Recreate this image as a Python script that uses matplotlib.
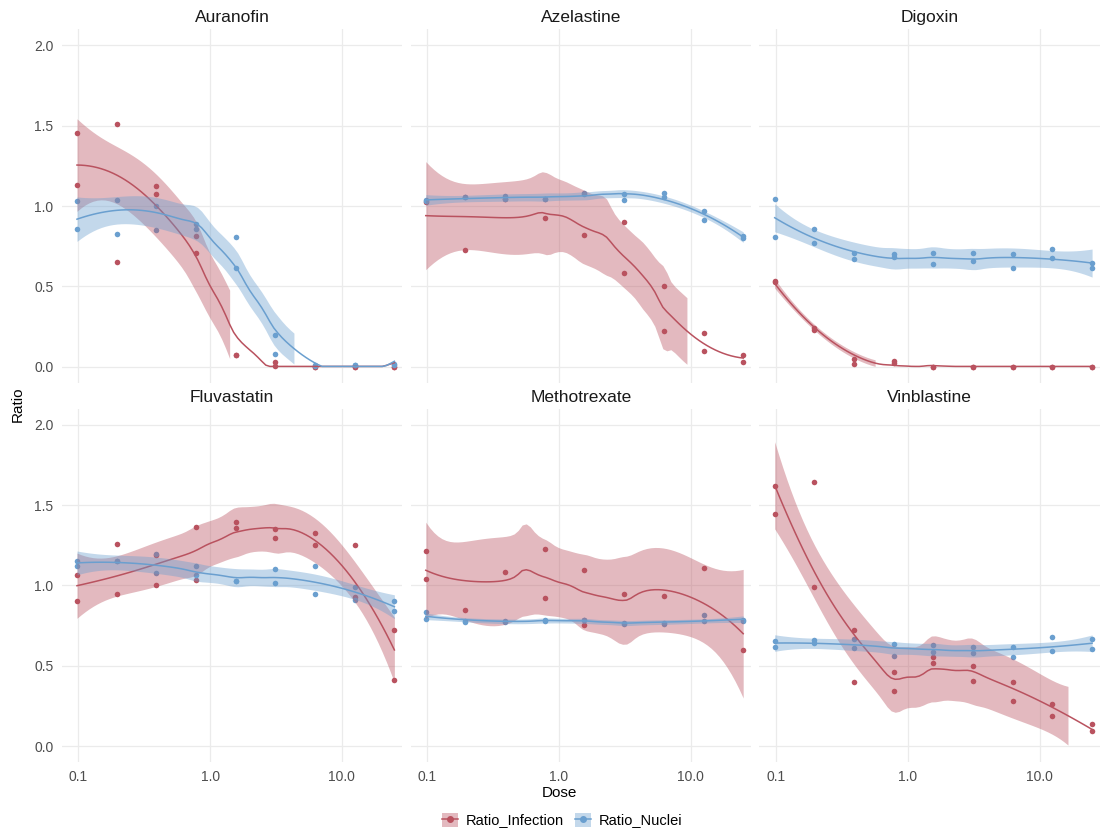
import math
import numpy as np
import matplotlib.pyplot as plt
from matplotlib.patches import Patch
from matplotlib.lines import Line2D

# doses (two-fold dilution series), one entry per column of replicates below
doses = [0.0977, 0.1953, 0.3906, 0.7813, 1.5625, 3.125, 6.25, 12.5, 25.0]

drugs = ['Auranofin', 'Azelastine', 'Digoxin', 'Fluvastatin', 'Methotrexate', 'Vinblastine']

# replicate values per dose (None = point not shown / out of range)
auranofin_infection = [[1.456, 1.131], [1.510, 0.651], [1.127, 1.073], [0.815, 0.707], [0.075, 0.070],
                       [0.030, 0.005], [0.0, 0.0], [0.0, 0.0], [0.0, 0.0]]
auranofin_nuclei = [[1.031, 0.855], [1.035, 0.824], [1.002, 0.853], [0.890, 0.855], [0.809, 0.612],
                    [0.199, 0.079], [0.010, 0.005], [0.010, 0.010], [0.015, 0.010]]

azelastine_infection = [[1.023, None], [0.726, None], [1.044, None], [0.923, None], [0.822, None],
                        [0.902, 0.581], [0.502, 0.224], [0.207, 0.098], [0.075, 0.029]]
azelastine_nuclei = [[1.037, 1.030], [1.058, 1.055], [1.062, 1.045], [1.041, 1.045], [1.083, 1.078],
                     [1.073, 1.035], [1.083, 1.058], [0.971, 0.915], [0.811, 0.801]]

digoxin_infection = [[0.533, 0.525], [0.239, 0.228], [0.050, 0.017], [0.037, 0.025], [0.0, 0.0],
                     [0.0, 0.0], [0.0, 0.0], [0.0, 0.0], [0.0, 0.0]]
digoxin_nuclei = [[1.044, 0.805], [0.855, 0.772], [0.707, 0.672], [0.699, 0.680], [0.705, 0.637],
                  [0.710, 0.658], [0.703, 0.616], [0.732, 0.676], [0.647, 0.616]]

fluvastatin_infection = [[1.066, 0.900], [1.255, 0.948], [1.187, 1.002], [1.361, 1.031], [1.392, 1.355],
                         [1.349, 1.295], [1.328, 1.249], [1.249, 0.927], [0.724, 0.409]]
fluvastatin_nuclei = [[1.149, 1.120], [1.149, 1.150], [1.197, 1.079], [1.118, 1.062], [1.025, 1.030],
                      [1.104, 1.017], [1.120, 0.948], [0.988, 0.907], [0.902, 0.838]]

methotrexate_infection = [[1.214, 1.041], [0.849, None], [1.083, None], [1.228, 0.919], [1.093, 0.751],
                          [0.946, None], [0.936, None], [1.106, None], [0.600, None]]
methotrexate_nuclei = [[0.834, 0.793], [0.776, 0.772], [0.776, 0.772], [0.782, 0.778], [0.786, 0.782],
                       [0.765, 0.761], [0.765, 0.761], [0.813, 0.780], [0.786, 0.778]]

vinblastine_infection = [[1.620, 1.446], [1.643, 0.990], [0.720, 0.400], [0.461, 0.342], [0.552, 0.519],
                         [0.498, 0.402], [0.400, 0.280], [0.259, 0.187], [0.137, 0.091]]
vinblastine_nuclei = [[0.656, 0.614], [0.660, 0.639], [0.668, 0.610], [0.635, 0.562], [0.631, 0.585],
                      [0.614, 0.577], [0.618, 0.556], [0.680, 0.593], [0.664, 0.602]]

infection = [auranofin_infection, azelastine_infection, digoxin_infection,
             fluvastatin_infection, methotrexate_infection, vinblastine_infection]
nuclei = [auranofin_nuclei, azelastine_nuclei, digoxin_nuclei,
          fluvastatin_nuclei, methotrexate_nuclei, vinblastine_nuclei]

RED = '#B9525F'
BLUE = '#6A9FCF'


def long_form(reps):
    xs, ys = [], []
    for d, pair in zip(doses, reps):
        for v in pair:
            if v is not None:
                xs.append(d)
                ys.append(v)
    return np.array(xs), np.array(ys)


def qt975(df):
    # t quantile by integrating the density
    c = math.exp(math.lgamma((df + 1) / 2) - math.lgamma(df / 2)) / math.sqrt(df * math.pi)
    t = np.linspace(0, 20, 20001)
    dens = c * (1 + t ** 2 / df) ** (-(df + 1) / 2)
    cdf = np.concatenate([[0], np.cumsum((dens[1:] + dens[:-1]) / 2 * np.diff(t))])
    return float(np.interp(0.475, cdf, t))


def loess(x, y, xg, span=0.75):
    # local quadratic fit with tricube weights, like R's loess()
    n = len(x)
    q = int(np.floor(n * span))

    def row(x0):
        d = np.abs(x - x0)
        h = np.sort(d)[q - 1]
        u = d / h
        w = np.where(u < 1, (1 - u ** 3) ** 3, 0.0)
        X = np.column_stack([np.ones(n), x - x0, (x - x0) ** 2])
        XtW = X.T * w
        return np.linalg.solve(XtW @ X, XtW)[0]

    Lg = np.array([row(v) for v in xg])
    Ld = np.array([row(v) for v in x])
    res = y - Ld @ y
    M = np.eye(n) - Ld
    MM = M.T @ M
    d1 = np.trace(MM)
    d2 = np.trace(MM @ MM)
    s = math.sqrt(np.sum(res ** 2) / d1)
    se = s * np.sqrt(np.sum(Lg ** 2, axis=1))
    t = qt975(d1 ** 2 / d2)
    fit = Lg @ y
    return fit, fit - t * se, fit + t * se


W, H = 1101, 831
fig = plt.figure(figsize=(W / 100, H / 100), dpi=100)
plt.rcParams['font.family'] = ['Liberation Sans', 'DejaVu Sans']

col_left = [61.7, 410.5, 759.4]
row_top = [29.3, 408.6]
pw, ph = 340.6, 353.5

for i, drug in enumerate(drugs):
    r, c = divmod(i, 3)
    ax = fig.add_axes([col_left[c] / W, 1 - (row_top[r] + ph) / H, pw / W, ph / H])
    ax.set_xscale('log')
    ax.set_xlim(10 ** -1.126, 10 ** 1.458)
    ax.set_ylim(-0.1, 2.1)
    for s in ax.spines.values():
        s.set_visible(False)
    ax.set_xticks([0.1, 1, 10])
    ax.set_xticks([], minor=True)
    ax.set_yticks([0, 0.5, 1.0, 1.5, 2.0])
    ax.grid(True, color='#EBEBEB', lw=0.9)
    ax.set_axisbelow(True)
    ax.tick_params(length=0, labelsize=10, colors='#4D4D4D', pad=6)
    if r == 1:
        ax.set_xticklabels(['0.1', '1.0', '10.0'])
    else:
        ax.set_xticklabels([])
    if c == 0:
        ax.set_yticklabels(['0.0', '0.5', '1.0', '1.5', '2.0'])
    else:
        ax.set_yticklabels([])
    ax.set_title(drug, fontsize=12.5, color='#1A1A1A', pad=5)

    groups = [(infection[i], RED), (nuclei[i], BLUE)]
    for reps, col in groups:
        x, y = long_form(reps)
        ax.scatter(x, y, s=16, color=col, lw=0, zorder=2)
    for reps, col in groups:
        x, y = long_form(reps)
        lx = np.log10(x)
        xg = np.linspace(lx.min(), lx.max(), 80)
        fit, lo, hi = loess(lx, y, xg)
        # band is dropped where it leaves the 0..2 range, line sits on the floor
        ok = (lo >= 0) & (hi <= 2)
        ax.fill_between(10 ** xg, lo, hi, where=ok, color=col, alpha=0.4, lw=0, zorder=3)
        ax.plot(10 ** xg, np.clip(fit, 0.002, 2), color=col, lw=1.1, zorder=3)

fig.text(559 / W, 1 - 793 / H, 'Dose', ha='center', va='center', fontsize=11)
fig.text(18 / W, 1 - 404 / H, 'Ratio', ha='center', va='center', rotation=90, fontsize=11)

handles = [(Patch(facecolor=RED, alpha=0.4, lw=0),
            Line2D([], [], color=RED, lw=1.1, marker='o', markersize=4)),
           (Patch(facecolor=BLUE, alpha=0.4, lw=0),
            Line2D([], [], color=BLUE, lw=1.1, marker='o', markersize=4))]
fig.legend(handles, ['Ratio_Infection', 'Ratio_Nuclei'], loc='center', ncol=2,
           bbox_to_anchor=(562 / W, 1 - 820 / H), frameon=False, fontsize=10.5,
           handlelength=1.1, handleheight=1.1, handletextpad=0.5, columnspacing=0.8)

fig.savefig('out.png', dpi=100)
